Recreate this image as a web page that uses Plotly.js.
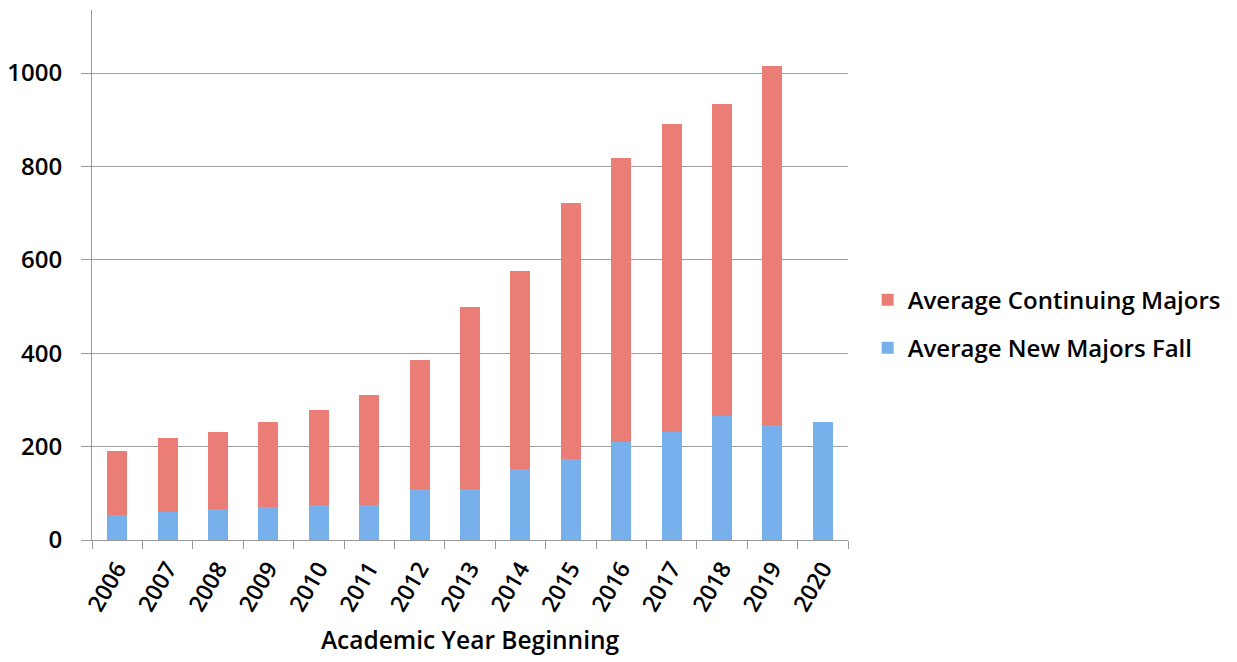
<!DOCTYPE html>
<html>
<head>
<meta charset="utf-8">
<script src="https://cdn.plot.ly/plotly-3.0.1.min.js"></script>
<style>html,body{margin:0;padding:0;background:#fff;}#chart{width:1237px;height:662px;}</style>
</head>
<body>
<div id="chart"></div>
<script>
const years = ["2006","2007","2008","2009","2010","2011","2012","2013","2014","2015","2016","2017","2018","2019","2020"];
const newMajors = [54, 61, 66, 71, 75, 76, 109, 109, 152, 174, 209, 232, 266, 247, 252];
const continuingMajors = [137, 157, 166, 181, 204, 235, 277, 391, 425, 548, 609, 658, 667, 769, 0];
const yTicks = [0, 200, 400, 600, 800, 1000];

const font = "Open Sans, DejaVu Sans, Arial, sans-serif";
const traces = [
  {type: "bar", name: "Average New Majors Fall", x: years, y: newMajors, legendgroup: "a", legendrank: 2,
   marker: {color: "#78b0ec", line: {width: 0}}},
  {type: "bar", name: "Average Continuing Majors", x: years, y: continuingMajors, legendgroup: "b", legendrank: 1,
   marker: {color: "#ea7e76", line: {width: 0}}}
];
const layout = {
  width: 1237, height: 662,
  margin: {l: 92, r: 389, t: 10, b: 122},
  barmode: "stack", bargap: 0.6,
  paper_bgcolor: "#fff", plot_bgcolor: "#fff",
  font: {family: font, color: "#000", size: 23, weight: 600},
  showlegend: true,
  legend: {x: 1.026, y: 0.4075, xanchor: "left", yanchor: "middle", traceorder: "grouped",
           font: {size: 24, family: font, weight: 600}, itemwidth: 30, tracegroupgap: 14},
  xaxis: {type: "category", tickangle: -60, tickfont: {size: 23, weight: 600},
          ticks: "outside", ticklen: 8, tickcolor: "#999", tickson: "boundaries",
          ticklabelstandoff: 5,
          showline: true, linecolor: "#999", linewidth: 1, showgrid: false,
          title: {text: "Academic Year Beginning", font: {size: 24.5, weight: 600}, standoff: 15}},
  yaxis: {range: [0, 1135], tickvals: yTicks, ticktext: yTicks.map(String),
          tickfont: {size: 24, weight: 600}, ticks: "outside", ticklen: 10, tickcolor: "#999",
          ticklabelstandoff: 14,
          showline: true, linecolor: "#999", linewidth: 1,
          showgrid: true, gridcolor: "#a0a0a0", gridwidth: 1, zeroline: false}
};
Plotly.newPlot("chart", traces, layout, {displayModeBar: false, staticPlot: true});
</script>
</body>
</html>
